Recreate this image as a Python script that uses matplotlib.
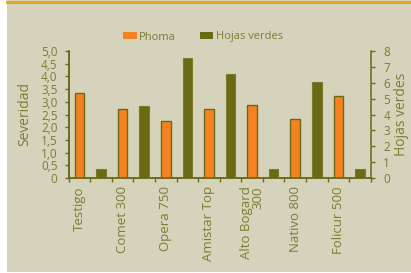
import matplotlib
matplotlib.use("Agg")
import matplotlib.pyplot as plt
import numpy as np
from matplotlib.patches import Patch, Rectangle
from matplotlib.lines import Line2D

categories = ["Testigo", "Comet 300", "Opera 750", "Amistar Top", "Alto Bogard\n300", "Nativo 800", "Folicur 500"]
phoma = [3.33, 2.70, 2.26, 2.73, 2.86, 2.31, 3.24]
hojas_verdes = [0.55, 4.55, 7.55, 6.55, 0.55, 6.05, 0.55]
left_ticks = [0, 0.5, 1.0, 1.5, 2.0, 2.5, 3.0, 3.5, 4.0, 4.5, 5.0]
right_ticks = [0, 1, 2, 3, 4, 5, 6, 7, 8]

BG = "#D6D3BC"
ORANGE = "#F58220"
OLIVE = "#6A6A14"
TXT = "#7E7B32"

plt.rcParams['font.family'] = ['Open Sans', 'DejaVu Sans']

fig = plt.figure(figsize=(4.11, 2.73), dpi=100)
fig.patch.set_facecolor("white")
# beige panel and top stripe
fig.add_artist(Rectangle((7/411, 1/273), 1 - 7/411, 1 - 1/273, transform=fig.transFigure,
                         facecolor=BG, edgecolor="none", zorder=-10))
fig.add_artist(Line2D([7/411, 1], [1 - 1.5/273, 1 - 1.5/273], transform=fig.transFigure,
                      color="#E2A81E", linewidth=2.2, zorder=-5))

ax = fig.add_axes([68.7/411, 95/273, 302/411, 127/273])
ax.set_facecolor("none")
ax2 = ax.twinx()

n = len(categories)
idx = np.arange(n)
xo = idx * 2 + 0.5
xg = idx * 2 + 1.5
w = 0.44

ax.bar(xo, phoma, width=w, color=ORANGE, edgecolor=OLIVE, linewidth=1.0, zorder=3)
ax2.bar(xg, hojas_verdes, width=w, color=OLIVE, edgecolor="#7A7A2A", linewidth=0.8, zorder=3)

ax.set_xlim(0, 2 * n)
ax.set_ylim(0, 5)
ax2.set_ylim(0, 8)

ax.set_xticks(np.arange(0, 2 * n + 1))
ax.set_xticklabels([])
ax.set_xticks(xo, minor=True)
ax.set_xticklabels(categories, minor=True, rotation=90, ha="center", va="top",
                   multialignment="right", fontsize=9.5, color=TXT, linespacing=0.9)
ax.tick_params(axis="x", which="major", direction="out", length=3, width=1.0, color=OLIVE)
ax.tick_params(axis="x", which="minor", length=0, pad=6)

ax.set_yticks(left_ticks)
ax.set_yticklabels(["0" if v == 0 else f"{v:.1f}".replace(".", ",") for v in left_ticks],
                   fontsize=8.5, color=TXT)
ax.tick_params(axis="y", direction="out", length=3, width=1.0, color=OLIVE, pad=5)

ax2.set_yticks(right_ticks)
ax2.set_yticklabels([str(v) for v in right_ticks], fontsize=8.5, color=TXT)
ax2.tick_params(axis="y", direction="out", length=3, width=1.0, color=OLIVE, pad=6)

for a in (ax, ax2):
    a.spines["top"].set_visible(False)
    for s in ("left", "right", "bottom"):
        a.spines[s].set_color(OLIVE)
        a.spines[s].set_linewidth(1.1)
ax.spines["right"].set_visible(False)

ax.set_ylabel("Severidad", fontsize=10, color=TXT, labelpad=6)
ax2.set_ylabel("Hojas verdes", fontsize=10, color=TXT, labelpad=3)

handles = [Patch(facecolor=ORANGE, edgecolor="none"), Patch(facecolor=OLIVE, edgecolor="none")]
fig.legend(handles, ["Phoma", "Hojas verdes"], loc="center", bbox_to_anchor=(203/411, 1 - 37/273),
           ncol=2, frameon=False, fontsize=8, labelcolor=TXT, handlelength=1.2, handleheight=0.6,
           handletextpad=0.2, columnspacing=2.2, borderaxespad=0)

fig.savefig("out.png", dpi=100, facecolor=fig.get_facecolor())
